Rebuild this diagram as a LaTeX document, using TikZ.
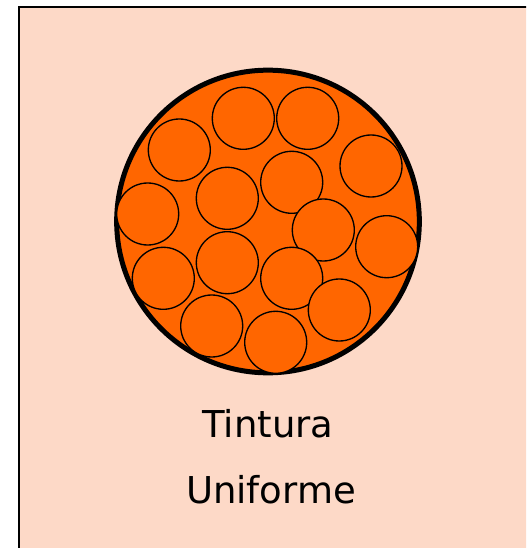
\documentclass[tikz,border=0pt]{standalone}
\usepackage{fontspec}
\setmainfont{DejaVu Sans}
\usepackage{tikz}
\definecolor{pessego}{RGB}{253,217,199}
\definecolor{laranja}{RGB}{255,102,0}
\tikzset{
    fundo/.style={draw=black, line width=1.5pt, fill=pessego},
    feixe/.style={circle, draw=black, line width=3.75pt, fill=laranja, minimum size=227pt, inner sep=0pt},
    fibra/.style={circle, draw=black, line width=1pt, fill=laranja, minimum size=46.5pt, inner sep=0pt},
    rotulo/.style={anchor=base, font=\fontsize{27.75}{33}\selectfont},
}
\begin{document}
\begin{tikzpicture}[x=0.75pt, y=-0.75pt]
    \clip (0,0) rectangle (526,548);
    \draw[fundo] (19,7) rectangle (540,560);
    \node[feixe] (feixe) at (268,221.5) {};
    \node[fibra] (f1) at (243.3,118.3) {};
    \node[fibra] (f2) at (307.7,118.3) {};
    \node[fibra] (f3) at (179.3,150) {};
    \node[fibra] (f4) at (371,166) {};
    \node[fibra] (f5) at (291.7,182.3) {};
    \node[fibra] (f6) at (227.3,198.3) {};
    \node[fibra] (f7) at (147.7,214) {};
    \node[fibra] (f8) at (323.3,230) {};
    \node[fibra] (f9) at (386.7,246.7) {};
    \node[fibra] (f10) at (227.3,262.7) {};
    \node[fibra] (f11) at (163.3,278.3) {};
    \node[fibra] (f12) at (291.7,278.3) {};
    \node[fibra] (f13) at (339.3,310) {};
    \node[fibra] (f14) at (211.7,326) {};
    \node[fibra] (f15) at (275.7,342.3) {};
    \node[rotulo] (tintura) at (268,437) {Tintura};
    \node[rotulo] (uniforme) at (271,503) {Uniforme};
\end{tikzpicture}
\end{document}
